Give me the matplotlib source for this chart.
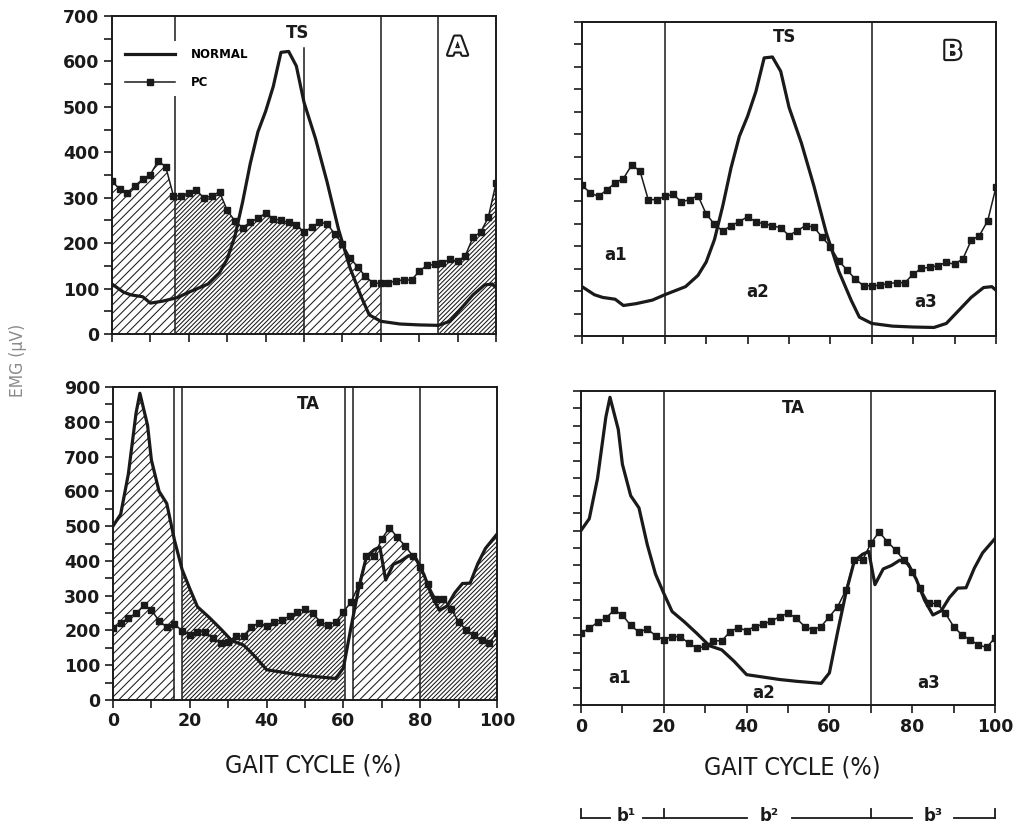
import numpy as np
import matplotlib
matplotlib.use("Agg")
import matplotlib.pyplot as plt
from matplotlib import patheffects as pe
from matplotlib import font_manager as fm
from matplotlib.ticker import MultipleLocator
from matplotlib.lines import Line2D
from matplotlib.patches import Polygon
from matplotlib.collections import LineCollection
import matplotlib.transforms as mtrans

# ---------------- data ----------------
pc_x = list(range(0, 101, 2))

ts_pc = [336, 319, 311, 326, 341, 351, 381, 368, 304, 304, 311, 316, 299, 304, 313, 272,
         249, 234, 246, 255, 266, 254, 250, 246, 241, 224, 235, 246, 243, 220, 199, 168,
         147, 127, 112, 112, 113, 117, 119, 119, 138, 151, 153, 157, 164, 160, 172, 213,
         224, 257, 332]

ts_norm_x = [0, 3, 5, 8, 10, 13, 17, 20, 25, 28, 30, 32, 34, 36, 38, 40, 42, 44, 46, 48,
             50, 53, 56, 59, 62, 65, 67, 70, 75, 80, 85, 88, 91, 94, 97, 99, 100]
ts_norm = [110, 92, 86, 82, 68, 72, 80, 92, 110, 135, 165, 215, 290, 375, 445, 490, 545,
           620, 622, 590, 510, 430, 335, 230, 145, 80, 42, 28, 22, 20, 19, 28, 57, 86, 108,
           110, 102]

ta_pc = [206, 220, 237, 249, 272, 258, 228, 209, 218, 199, 187, 196, 196, 177, 163, 168,
         184, 184, 210, 222, 213, 225, 231, 241, 253, 263, 249, 225, 215, 225, 253, 282,
         330, 415, 415, 463, 496, 468, 444, 415, 382, 334, 291, 291, 263, 225, 201, 187,
         172, 165, 193]

ta_norm_x = [0, 2, 4, 6, 7, 9, 10, 12, 14, 16, 18, 20, 22, 25, 28, 31, 34, 37, 40, 44, 48,
             52, 55, 58, 60, 62, 64, 66, 68, 69.5, 71, 73, 75, 77, 79, 81, 83, 85, 87, 89,
             91, 93, 95, 97, 100]
ta_norm = [500, 534, 650, 825, 882, 790, 690, 600, 565, 460, 375, 320, 268, 238, 205, 170,
           158, 125, 87, 80, 73, 68, 65, 62, 92, 210, 322, 412, 432, 440, 345, 390, 400,
           415, 405, 360, 300, 258, 270, 308, 335, 336, 392, 436, 477]

x_ticks = [0, 20, 40, 60, 80, 100]
ts_ylim = 700
ta_ylim = 900

# phase boundaries
ts_lines_A = [16.5, 50, 70, 85]
ta_lines_A = [16, 18, 60.3, 62.5, 80]
lines_B = [20, 70]
# hatched regions (start, end, density)
ts_hatch_A = [(0, 16.5, "sparse"), (16.5, 50, "dense"), (50, 70, "sparse"), (85, 100, "dense")]
ta_hatch_A = [(0, 16, "sparse"), (18, 60.3, "dense"), (62.5, 80, "sparse"), (80, 100, "dense")]
HATCH_GAP = {"sparse": 8.6, "dense": 4.4}   # horizontal spacing in pixels

# ---------------- style ----------------
names = {f.name for f in fm.fontManager.ttflist}
cond = "Liberation Sans Narrow" if "Liberation Sans Narrow" in names else "DejaVu Sans"
TICK_FS = 12.5

W, H = 1014, 825
fig = plt.figure(figsize=(W / 100, H / 100), dpi=100)


def px_axes(l, t, r, b):
    return fig.add_axes([l / W, 1 - b / H, (r - l) / W, (b - t) / H])


ax_tl = px_axes(112, 16, 496, 334)
ax_tr = px_axes(582, 22, 996, 336)
ax_bl = px_axes(113, 387, 497, 700)
ax_br = px_axes(581, 391, 995, 705)

INK = "#1a1a1a"


def style(ax, ymax, xlabels, ylabels):
    ax.set_xlim(0, 100)
    ax.set_ylim(0, ymax)
    ax.xaxis.set_major_locator(MultipleLocator(20))
    ax.xaxis.set_minor_locator(MultipleLocator(10))
    ax.yaxis.set_major_locator(MultipleLocator(100))
    ax.yaxis.set_minor_locator(MultipleLocator(50))
    ax.tick_params(which="both", direction="out", length=6, width=1.2, color=INK,
                   labelsize=TICK_FS, pad=3, labelbottom=xlabels, labelleft=ylabels)
    for lab in ax.get_xticklabels() + ax.get_yticklabels():
        lab.set_fontweight("bold")
        lab.set_color(INK)
    for s in ax.spines.values():
        s.set_linewidth(1.4)
        s.set_color(INK)


def region_fill(ax, x0, x1, kind, norm_x, norm, pc, use_max):
    grid = np.union1d(np.asarray(pc_x, float), np.asarray(norm_x, float))
    grid = grid[(grid > x0) & (grid < x1)]
    grid = np.concatenate([[x0], grid, [x1]])
    top = np.interp(grid, pc_x, pc)
    if use_max:
        top = np.maximum(top, np.interp(grid, norm_x, norm))
    verts = np.column_stack([np.r_[grid, x1, x0], np.r_[top, 0, 0]])
    poly = Polygon(verts, closed=True, facecolor="none", edgecolor="none",
                   transform=ax.transData)
    ax.add_patch(poly)
    bb = ax.bbox
    gap = HATCH_GAP[kind]
    cs = np.arange(bb.y0 - bb.x1, bb.y1 - bb.x0 + gap, gap)
    segs = [[(bb.x0, bb.x0 + c), (bb.x1, bb.x1 + c)] for c in cs]
    lc = LineCollection(segs, colors=INK, linewidths=0.75,
                        transform=mtrans.IdentityTransform(), zorder=1)
    ax.add_collection(lc, autolim=False)
    lc.set_clip_path(poly)


def curves(ax, norm_x, norm, pc):
    ax.plot(norm_x, norm, color=INK, lw=2.3, zorder=4, solid_joinstyle="round")
    ax.plot(pc_x, pc, color=INK, lw=1.1, marker="s", ms=5, mfc=INK, mec=INK, zorder=3)


def outlined(ax, x, y, s):
    ax.text(x, y, s, fontsize=18, fontweight="bold", color="white", ha="center",
            va="center", zorder=6,
            path_effects=[pe.withStroke(linewidth=3, foreground=INK)])


lab_kw = dict(fontsize=12, fontweight="bold", color=INK, ha="center", va="center", zorder=6)

# ---- top-left (A, TS)
style(ax_tl, ts_ylim, False, True)
for x0, x1, k in ts_hatch_A:
    region_fill(ax_tl, x0, x1, k, ts_norm_x, ts_norm, ts_pc, False)
for xv in ts_lines_A:
    ax_tl.axvline(xv, ymax=0.9 if xv == 50 else 1, color=INK, lw=1.1, zorder=2)
curves(ax_tl, ts_norm_x, ts_norm, ts_pc)
ax_tl.text(48.2, 662, "TS", **lab_kw)
outlined(ax_tl, 90, 630, "A")
h_norm = Line2D([], [], color=INK, lw=2.3)
h_pc = Line2D([], [], color=INK, lw=1.1, marker="s", ms=5)
leg = ax_tl.legend([h_norm, h_pc], ["NORMAL", "PC"], loc="upper left",
                   bbox_to_anchor=(0.0, 0.94), frameon=True, facecolor="white",
                   edgecolor="none", framealpha=1, fancybox=False, handlelength=4.2,
                   handletextpad=1.4, labelspacing=1.25, borderpad=0.6,
                   prop=dict(size=8.5, weight="bold"))
leg.set_zorder(5)

# ---- top-right (B, TS)
style(ax_tr, ts_ylim, False, False)
for xv in lines_B:
    ax_tr.axvline(xv, color=INK, lw=1.1, zorder=2)
curves(ax_tr, ts_norm_x, ts_norm, ts_pc)
ax_tr.text(49, 666, "TS", **lab_kw)
outlined(ax_tr, 89.5, 633, "B")
ax_tr.text(8, 181, "a1", **lab_kw)
ax_tr.text(42.5, 98, "a2", **lab_kw)
ax_tr.text(83, 76, "a3", **lab_kw)

# ---- bottom-left (A, TA)
style(ax_bl, ta_ylim, True, True)
for x0, x1, k in ta_hatch_A:
    region_fill(ax_bl, x0, x1, k, ta_norm_x, ta_norm, ta_pc, True)
for xv in ta_lines_A:
    ax_bl.axvline(xv, color=INK, lw=1.1, zorder=2)
curves(ax_bl, ta_norm_x, ta_norm, ta_pc)
ax_bl.text(50.8, 851, "TA", **lab_kw)
ax_bl.set_xticks(x_ticks)

# ---- bottom-right (B, TA)
style(ax_br, ta_ylim, True, False)
for xv in lines_B:
    ax_br.axvline(xv, color=INK, lw=1.1, zorder=2)
curves(ax_br, ta_norm_x, ta_norm, ta_pc)
ax_br.text(51.4, 851, "TA", **lab_kw)
ax_br.text(9.2, 78, "a1", **lab_kw)
ax_br.text(44.2, 35, "a2", **lab_kw)
ax_br.text(84, 63, "a3", **lab_kw)
ax_br.set_xticks(x_ticks)

# ---- axis titles
xl_kw = dict(fontsize=18, family=cond, fontstretch="condensed", color=INK,
             ha="center", va="center")
fig.text(313 / W, 1 - 766 / H, "GAIT CYCLE (%)", **xl_kw)
fig.text(792 / W, 1 - 768 / H, "GAIT CYCLE (%)", **xl_kw)
fig.text(18 / W, 1 - 360 / H, "EMG (\u03bcV)", rotation=90, fontsize=12.5, family=cond,
         fontstretch="condensed", color="#8a8a8a", ha="center", va="center")

# ---- b-bracket under panel B
tr = mtrans.blended_transform_factory(ax_br.transData, fig.transFigure)
y_line = 1 - 818 / H
y_tick = 1 - 809 / H
for xa, xb in [(0, 7), (15, 40), (51, 80), (90, 100)]:
    fig.add_artist(Line2D([xa, xb], [y_line, y_line], transform=tr, color=INK, lw=1.3))
for xv in [0, 20, 70, 100]:
    fig.add_artist(Line2D([xv, xv], [y_line, y_tick], transform=tr, color=INK, lw=1.3))
for xv, s in [(11, "b\u00b9"), (45.5, "b\u00b2"), (85, "b\u00b3")]:
    fig.text(xv, y_line + 0.002, s, transform=tr, fontsize=12, fontweight="bold",
             color=INK, ha="center", va="center")

fig.savefig("out.png", dpi=100)
